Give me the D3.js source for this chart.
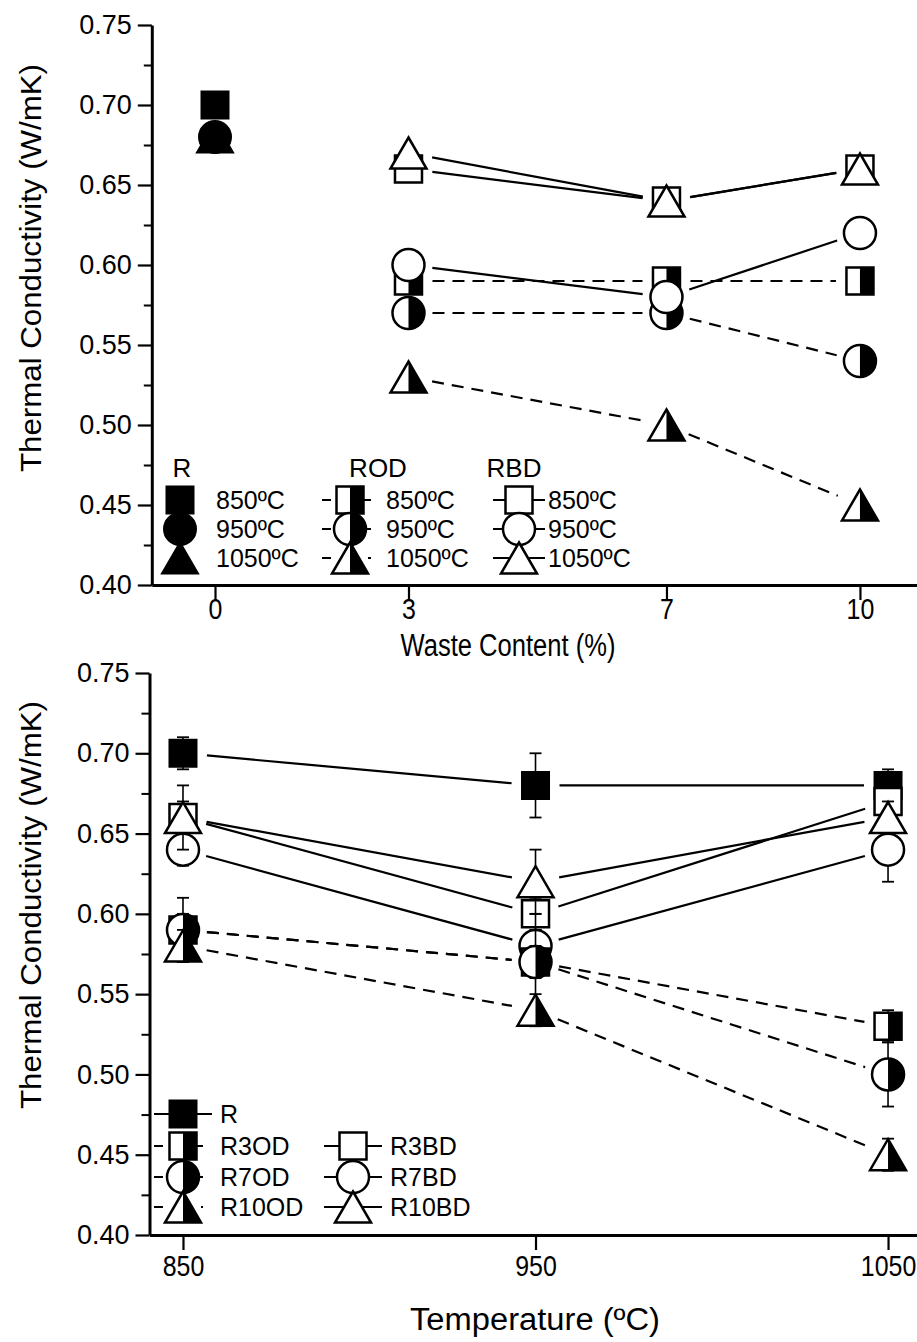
<!DOCTYPE html>
<html><head><meta charset="utf-8">
<script src="https://cdn.jsdelivr.net/npm/d3@7"></script>
<style>
body{margin:0;background:#fff;}
svg{display:block;font-family:"Liberation Sans",Arial,Helvetica,sans-serif;}
</style></head><body>
<svg id="chart" width="917" height="1342"></svg>
<script>
// ---------------- DATA ----------------
const wasteTicks = [0, 3, 7, 10];
const odbdWaste = [3, 7, 10];
const rWaste = 0;
const temperatures = [850, 950, 1050];
const tempLabels = ["850ºC", "950ºC", "1050ºC"];
const yTickValues = [0.40, 0.45, 0.50, 0.55, 0.60, 0.65, 0.70, 0.75];
const yTickLabels = ["0.40", "0.45", "0.50", "0.55", "0.60", "0.65", "0.70", "0.75"];
const yMinorValues = [0.425, 0.475, 0.525, 0.575, 0.625, 0.675, 0.725];

// Top chart: thermal conductivity vs waste content
const topR = [0.70, 0.68, 0.68];          // R at 0 %, for 850 / 950 / 1050 ºC
const topROD850 = [0.59, 0.59, 0.59];     // 3, 7, 10 %
const topROD950 = [0.57, 0.57, 0.54];
const topROD1050 = [0.53, 0.50, 0.45];
const topRBD850 = [0.66, 0.64, 0.66];
const topRBD950 = [0.60, 0.58, 0.62];
const topRBD1050 = [0.67, 0.64, 0.66];

// Bottom chart: thermal conductivity vs temperature (850, 950, 1050 ºC)
const botR = [0.70, 0.68, 0.68];
const botR3OD = [0.59, 0.57, 0.53];
const botR7OD = [0.59, 0.57, 0.50];
const botR10OD = [0.58, 0.54, 0.45];
const botR3BD = [0.66, 0.60, 0.67];
const botR7BD = [0.64, 0.58, 0.64];
const botR10BD = [0.66, 0.62, 0.66];
const errR = [0.01, 0.02, 0.01];
const errR3OD = [0.01, 0.01, 0.01];
const errR7OD = [0.02, 0.03, 0.02];
const errR10OD = [0.01, 0.01, 0.01];
const errR3BD = [0.01, 0.01, 0.01];
const errR7BD = [0.01, 0.01, 0.02];
const errR10BD = [0.02, 0.02, 0.01];

const topLegendHeaders = ["R", "ROD", "RBD"];
const botLegendNames = ["R", "R3OD", "R7OD", "R10OD", "R3BD", "R7BD", "R10BD"];

// ---------------- DRAWING ----------------
const FONT = "Liberation Sans, Arial, sans-serif";
const svg = d3.select("#chart");
const defs = svg.append("defs");
defs.append("clipPath").attr("id", "rh").attr("clipPathUnits", "objectBoundingBox")
  .append("rect").attr("x", 0.5).attr("y", -0.1).attr("width", 0.6).attr("height", 1.2);

const SQ = 27, CR = 16, TW = 36, TH = 31;
function shapePath(shape) {
  if (shape === "square") { const h = SQ / 2; return `M${-h},${-h}H${h}V${h}H${-h}Z`; }
  if (shape === "circle") { const r = CR; return `M${-r},0A${r},${r} 0 1,0 ${r},0A${r},${r} 0 1,0 ${-r},0Z`; }
  return `M0,${-TH / 2}L${TW / 2},${TH / 2}L${-TW / 2},${TH / 2}Z`;
}
function marker(g, shape, style, cx, cy) {
  const m = g.append("g").attr("transform", `translate(${cx},${cy})`);
  const d = shapePath(shape);
  if (style === "filled") {
    m.append("path").attr("d", d).attr("fill", "#000").attr("stroke", "#000").attr("stroke-width", 2);
  } else {
    m.append("path").attr("d", d).attr("fill", "#fff");
    if (style === "half") m.append("path").attr("d", d).attr("fill", "#000").attr("clip-path", "url(#rh)");
    m.append("path").attr("d", d).attr("fill", "none").attr("stroke", "#000").attr("stroke-width", 2.5);
  }
}
function gapped(g, pts, dashed, gap = 24) {
  for (let i = 0; i < pts.length - 1; i++) {
    const [x0, y0] = pts[i], [x1, y1] = pts[i + 1];
    const dx = x1 - x0, dy = y1 - y0, L = Math.hypot(dx, dy);
    if (L <= 2 * gap) continue;
    const ux = dx / L, uy = dy / L;
    g.append("line")
      .attr("x1", x0 + ux * gap).attr("y1", y0 + uy * gap)
      .attr("x2", x1 - ux * gap).attr("y2", y1 - uy * gap)
      .attr("stroke", "#000").attr("stroke-width", 2.2)
      .attr("stroke-dasharray", dashed ? "12,8" : null);
  }
}
function errorBar(g, x, y, v, e) {
  if (!e) return;
  const yt = y(v + e), yb = y(v - e);
  g.append("line").attr("x1", x).attr("x2", x).attr("y1", yt).attr("y2", yb).attr("stroke", "#000").attr("stroke-width", 1.6);
  [yt, yb].forEach(yy => g.append("line").attr("x1", x - 6).attr("x2", x + 6).attr("y1", yy).attr("y2", yy).attr("stroke", "#000").attr("stroke-width", 1.8));
}

function yAxis(y, xpos, titleCenter) {
  const ax = svg.append("g").attr("transform", `translate(${xpos},0)`)
    .call(d3.axisLeft(y).tickValues(yTickValues).tickFormat((d, i) => yTickLabels[i]).tickSize(14).tickSizeOuter(0).tickPadding(6));
  ax.select(".domain").attr("stroke-width", 3);
  ax.selectAll(".tick line").attr("stroke-width", 2.2);
  ax.selectAll(".tick text").attr("font-size", 27).attr("font-family", FONT).attr("fill", "#000");
  const mn = svg.append("g").attr("transform", `translate(${xpos},0)`)
    .call(d3.axisLeft(y).tickValues(yMinorValues).tickFormat("").tickSize(8).tickSizeOuter(0));
  mn.select(".domain").remove();
  mn.selectAll(".tick line").attr("stroke-width", 2);
  svg.append("text").attr("transform", `translate(41,${titleCenter}) rotate(-90)`)
    .attr("text-anchor", "middle").attr("font-size", 30).attr("textLength", 408).attr("lengthAdjust", "spacingAndGlyphs")
    .text("Thermal Conductivity (W/mK)");
}
function xAxis(x, ypos, ticks, labelY, title, titleX, titleY, titleLen) {
  const ax = svg.append("g").attr("transform", `translate(0,${ypos})`)
    .call(d3.axisBottom(x).tickValues(ticks).tickFormat(d3.format("d")).tickSize(15).tickSizeOuter(0));
  ax.select(".domain").attr("stroke-width", 3);
  ax.selectAll(".tick line").attr("stroke-width", 2.2);
  ax.selectAll(".tick text").attr("font-size", 29).attr("y", labelY).attr("dy", "0.71em")
    .attr("transform", "scale(0.86,1)").attr("fill", "#000").attr("font-family", FONT);
  svg.append("text").attr("x", titleX).attr("y", titleY).attr("text-anchor", "middle")
    .attr("font-size", 31).attr("textLength", titleLen).attr("lengthAdjust", "spacingAndGlyphs").text(title);
}

// ---- TOP CHART ----
const xTop = d3.scaleLinear().domain([-0.98, 10.9]).range([151.8, 918]);
const yTop = d3.scaleLinear().domain([0.40, 0.75]).range([585, 25]);
yAxis(yTop, xTop(-0.98), 268);
xAxis(xTop, yTop(0.40), wasteTicks, 13, "Waste Content (%)", 508, 656, 215);

const shapes = ["square", "circle", "triangle"];
const gTop = svg.append("g");
const topOD = [topROD850, topROD950, topROD1050];
const topBD = [topRBD850, topRBD950, topRBD1050];
topOD.forEach(s => gapped(gTop, s.map((v, i) => [xTop(odbdWaste[i]), yTop(v)]), true));
topBD.forEach(s => gapped(gTop, s.map((v, i) => [xTop(odbdWaste[i]), yTop(v)]), false));
[2, 1, 0].forEach(k => marker(gTop, shapes[k], "filled", xTop(rWaste), yTop(topR[k])));
topOD.forEach((s, k) => s.forEach((v, i) => marker(gTop, shapes[k], "half", xTop(odbdWaste[i]), yTop(v))));
topBD.forEach((s, k) => s.forEach((v, i) => marker(gTop, shapes[k], "open", xTop(odbdWaste[i]), yTop(v))));

// top legend
const lg = svg.append("g").attr("font-size", 25);
const lgCols = [{mx: 180, tx: 216, hx: 182, style: "filled", line: null},
                {mx: 350, tx: 386, hx: 378, style: "half", line: "dash"},
                {mx: 519, tx: 548, hx: 514, style: "open", line: "solid"}];
const lgRows = [500, 529, 558];
lgCols.forEach((c, ci) => {
  lg.append("text").attr("x", c.hx).attr("y", 477).attr("text-anchor", "middle").attr("font-size", 26).text(topLegendHeaders[ci]);
  lgRows.forEach((ry, ri) => {
    const half = shapes[ri] === "square" ? SQ / 2 : shapes[ri] === "circle" ? CR : TW / 2;
    if (c.line === "solid") lg.append("line").attr("x1", c.mx - 26).attr("x2", c.mx + 26).attr("y1", ry).attr("y2", ry).attr("stroke", "#000").attr("stroke-width", 2);
    if (c.line === "dash") {
      lg.append("line").attr("x1", c.mx - 28).attr("x2", c.mx - 19).attr("y1", ry).attr("y2", ry).attr("stroke", "#000").attr("stroke-width", 2);
      lg.append("line").attr("x1", c.mx + half).attr("x2", c.mx + 21).attr("y1", ry).attr("y2", ry).attr("stroke", "#000").attr("stroke-width", 2);
    }
    marker(lg, shapes[ri], c.style, c.mx, ry);
    lg.append("text").attr("x", c.tx).attr("y", ry + 9).text(tempLabels[ri]);
  });
});

// ---- BOTTOM CHART ----
const xBot = d3.scaleLinear().domain([840.5, 1058.5]).range([149.5, 918]);
const yBot = d3.scaleLinear().domain([0.40, 0.75]).range([1235, 673]);
yAxis(yBot, xBot(840.5), 905);
xAxis(xBot, yBot(0.40), temperatures, 20, "Temperature (ºC)", 535, 1330, 250);

const botSeries = [
  {v: botR, e: errR, shape: "square", style: "filled", dashed: false},
  {v: botR3BD, e: errR3BD, shape: "square", style: "open", dashed: false},
  {v: botR7BD, e: errR7BD, shape: "circle", style: "open", dashed: false},
  {v: botR10BD, e: errR10BD, shape: "triangle", style: "open", dashed: false},
  {v: botR3OD, e: errR3OD, shape: "square", style: "half", dashed: true},
  {v: botR7OD, e: errR7OD, shape: "circle", style: "half", dashed: true},
  {v: botR10OD, e: errR10OD, shape: "triangle", style: "half", dashed: true}
];
const gBot = svg.append("g");
botSeries.forEach(s => gapped(gBot, s.v.map((v, i) => [xBot(temperatures[i]), yBot(v)]), s.dashed));
botSeries.forEach(s => s.v.forEach((v, i) => {
  errorBar(gBot, xBot(temperatures[i]), yBot, v, s.e[i]);
  marker(gBot, s.shape, s.style, xBot(temperatures[i]), yBot(v));
}));

// bottom legend
const bl = svg.append("g").attr("font-size", 25);
const blItems = [
  {n: 0, mx: 183, ry: 1114, shape: "square", style: "filled", dash: false},
  {n: 1, mx: 183, ry: 1146, shape: "square", style: "half", dash: true},
  {n: 2, mx: 183, ry: 1177, shape: "circle", style: "half", dash: true},
  {n: 3, mx: 183, ry: 1207, shape: "triangle", style: "half", dash: true},
  {n: 4, mx: 353, ry: 1146, shape: "square", style: "open", dash: false},
  {n: 5, mx: 353, ry: 1177, shape: "circle", style: "open", dash: false},
  {n: 6, mx: 353, ry: 1207, shape: "triangle", style: "open", dash: false}
];
blItems.forEach(it => {
  const half = it.shape === "square" ? SQ / 2 : it.shape === "circle" ? CR : TW / 2;
  if (it.dash) {
    bl.append("line").attr("x1", it.mx - 29).attr("x2", it.mx - 20).attr("y1", it.ry).attr("y2", it.ry).attr("stroke", "#000").attr("stroke-width", 2);
    bl.append("line").attr("x1", it.mx + half).attr("x2", it.mx + 20).attr("y1", it.ry).attr("y2", it.ry).attr("stroke", "#000").attr("stroke-width", 2);
  } else {
    bl.append("line").attr("x1", it.mx - 29).attr("x2", it.mx + 29).attr("y1", it.ry).attr("y2", it.ry).attr("stroke", "#000").attr("stroke-width", 2);
  }
  marker(bl, it.shape, it.style, it.mx, it.ry);
  bl.append("text").attr("x", it.mx + 37).attr("y", it.ry + 9).text(botLegendNames[it.n]);
});
</script>
</body></html>
